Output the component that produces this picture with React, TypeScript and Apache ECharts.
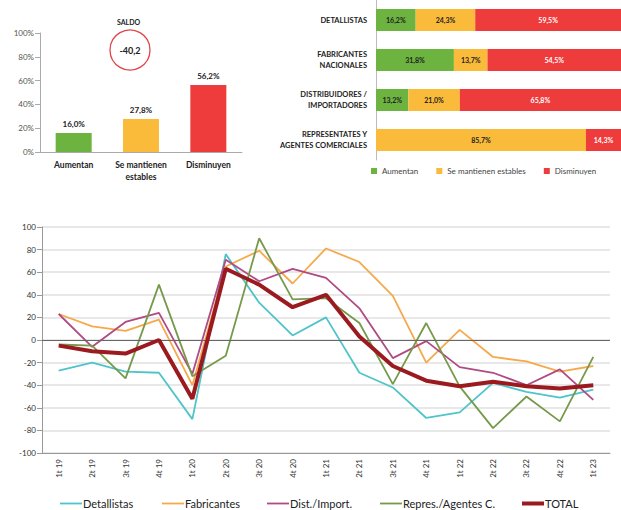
import React, { useEffect, useRef } from "react";
import * as echarts from "echarts";

// Top-left: overall distribution
const totalCats = ["Aumentan", "Se mantienen\nestables", "Disminuyen"];
const totalVals = [16.0, 27.8, 56.2];
const saldo = "-40,2";

// Top-right: by segment
const segCats = [
  "DETALLISTAS",
  "FABRICANTES\nNACIONALES",
  "DISTRIBUIDORES /\nIMPORTADORES",
  "REPRESENTATES Y\nAGENTES COMERCIALES",
];
const segAumentan = [16.2, 31.8, 13.2, 0];
const segEstables = [24.3, 13.7, 21.0, 85.7];
const segDisminuyen = [59.5, 54.5, 65.8, 14.3];

// Bottom: quarterly balance
const quarters = [
  "1t 19", "2t 19", "3t 19", "4t 19",
  "1t 20", "2t 20", "3t 20", "4t 20",
  "1t 21", "2t 21", "3t 21", "4t 21",
  "1t 22", "2t 22", "3t 22", "4t 22",
  "1t 23",
];
const detallistas = [-27, -20, -28, -29, -70, 76, 33, 4, 20, -29, -42, -69, -64, -38, -46, -51, -44];
const fabricantes = [23, 12, 8, 18, -40, 65, 79, 50, 81, 69, 39, -20, 9, -15, -19, -28, -23];
const distImport = [23, -6, 16, 24, -30, 71, 52, 63, 55, 28, -16, -1, -24, -29, -40, -26, -53];
const repres = [-4, -5, -34, 49, -32, -14, 90, 36, 37, 15, -39, 15, -41, -78, -50, -72, -15];
const total = [-5, -10, -12, 0, -52, 63, 49, 29, 40, 3, -23, -36, -41, -37, -41, -43, -40];

const GREEN = "#6cb33f";
const YELLOW = "#fbbb3a";
const RED = "#ee3b3b";
const FONT = "Lato";

const pct = (v: number) => (v ? v.toFixed(1).replace(".", ",") + "%" : "");

const lineNames = ["Detallistas", "Fabricantes", "Dist./Import.", "Repres./Agentes C.", "TOTAL"];
const lineLegendLeft = [60, 162, 267, 380, 522];

export default function App() {
  const ref = useRef<HTMLDivElement>(null);
  useEffect(() => {
    if (!ref.current) return;
    const chart = echarts.init(ref.current, undefined, { renderer: "svg" });
    const colors = [GREEN, YELLOW, RED];
    const lineSeries = (name: string, data: number[], color: string, width: number, z: number) => ({
      type: "line",
      name,
      data,
      xAxisIndex: 2,
      yAxisIndex: 2,
      showSymbol: false,
      symbol: "none",
      z,
      lineStyle: { color, width },
      itemStyle: { color },
    });
    chart.setOption({
      animation: false,
      textStyle: { fontFamily: FONT },
      grid: [
        { left: 40, top: 33, width: 202, height: 119 },
        { left: 376, top: 0, width: 245, height: 160 },
        { left: 42, top: 227, right: 11, bottom: 57 },
      ],
      xAxis: [
        {
          type: "category",
          gridIndex: 0,
          data: totalCats,
          axisLine: { lineStyle: { color: "#aaa" } },
          axisTick: { lineStyle: { color: "#aaa" } },
          axisLabel: { color: "#222", fontSize: 8.5, fontWeight: "bold", lineHeight: 12, margin: 7, fontFamily: FONT },
        },
        { type: "value", gridIndex: 1, min: 0, max: 100, show: false },
        {
          type: "category",
          gridIndex: 2,
          data: quarters,
          axisLine: { onZero: false, lineStyle: { color: "#999" } },
          axisTick: { alignWithLabel: true, lineStyle: { color: "#999" } },
          axisLabel: { rotate: 90, fontSize: 8, color: "#333", margin: 6, fontFamily: FONT },
        },
      ],
      yAxis: [
        {
          type: "value",
          gridIndex: 0,
          min: 0,
          max: 100,
          interval: 20,
          axisLine: { show: true, lineStyle: { color: "#aaa" } },
          axisTick: { show: true, lineStyle: { color: "#aaa" } },
          splitLine: { show: false },
          axisLabel: { formatter: "{value}%", fontSize: 8, color: "#555", margin: 6, fontFamily: FONT },
        },
        {
          type: "category",
          gridIndex: 1,
          data: segCats,
          inverse: true,
          axisLine: { show: true, lineStyle: { color: "#bbb" } },
          axisTick: { show: false },
          axisLabel: {
            color: "#222",
            fontSize: 7.5,
            fontWeight: "bold",
            lineHeight: 11,
            margin: 9,
            fontFamily: FONT,
          },
        },
        {
          type: "value",
          gridIndex: 2,
          min: -100,
          max: 100,
          interval: 20,
          axisLine: { show: true, lineStyle: { color: "#999" } },
          axisTick: { show: true, lineStyle: { color: "#999" } },
          splitLine: { show: true, lineStyle: { color: "#e0e0e0", width: 1.5 } },
          axisLabel: { fontSize: 8, color: "#333", margin: 6, fontFamily: FONT },
        },
      ],
      legend: [
        {
          data: ["Aumentan", "Se mantienen estables", "Disminuyen"],
          left: 366,
          top: 162,
          itemWidth: 6,
          itemHeight: 6,
          itemGap: 18,
          icon: "rect",
          textStyle: { fontSize: 8, color: "#444", fontFamily: FONT },
        },
        ...lineNames.map((name, i) => ({
          data: [
            {
              name,
              icon: i === 4 ? "path://M0,0L22,0L22,4L0,4Z" : "path://M0,0L22,0L22,1.8L0,1.8Z",
            },
          ],
          left: lineLegendLeft[i],
          top: 498,
          padding: 0,
          itemWidth: 22,
          itemHeight: 10,
          textStyle: { fontSize: 11, color: "#222", fontFamily: FONT, padding: [0, 0, 0, -4] },
        })),
      ],
      graphic: [
        {
          type: "text",
          left: 117,
          top: 18,
          style: { text: "SALDO", fontSize: 7, fontWeight: "bold", fill: "#222", fontFamily: FONT },
        },
        {
          type: "circle",
          shape: { cx: 130, cy: 50, r: 20 },
          style: { fill: "none", stroke: "#e0454b", lineWidth: 1.3 },
        },
        {
          type: "text",
          x: 130,
          y: 50,
          style: {
            text: saldo,
            fontSize: 9,
            fontWeight: "bold",
            fill: "#222",
            align: "center",
            verticalAlign: "middle",
            fontFamily: FONT,
          },
        },
      ],
      series: [
        {
          type: "bar",
          xAxisIndex: 0,
          yAxisIndex: 0,
          barWidth: 36,
          data: totalVals.map((v, i) => ({ value: v, itemStyle: { color: colors[i] } })),
          label: {
            show: true,
            position: "top",
            formatter: (p: any) => pct(p.value),
            fontSize: 8,
            fontWeight: "bold",
            color: "#222",
            distance: 5,
            fontFamily: FONT,
          },
        },
        ...[
          ["Aumentan", segAumentan, GREEN, "#222"],
          ["Se mantienen estables", segEstables, YELLOW, "#222"],
          ["Disminuyen", segDisminuyen, RED, "#fff"],
        ].map(([name, data, color, lc]) => ({
          type: "bar",
          name,
          stack: "seg",
          xAxisIndex: 1,
          yAxisIndex: 1,
          barWidth: 22,
          data,
          itemStyle: { color },
          label: {
            show: true,
            position: "inside",
            formatter: (p: any) => pct(p.value),
            fontSize: 7,
            fontWeight: "bold",
            color: lc,
            fontFamily: FONT,
          },
        })),
        {
          ...lineSeries("Detallistas", detallistas, "#4fc4c9", 1.8, 3),
          markLine: {
            silent: true,
            symbol: "none",
            label: { show: false },
            lineStyle: { color: "#666", width: 1.2, type: "solid" },
            data: [{ yAxis: 0 }],
          },
        },
        lineSeries("Fabricantes", fabricantes, "#f6a94b", 1.8, 3),
        lineSeries("Dist./Import.", distImport, "#b04a84", 1.8, 3),
        lineSeries("Repres./Agentes C.", repres, "#76994b", 1.8, 3),
        lineSeries("TOTAL", total, "#9a1a1f", 4, 5),
      ],
    });
    return () => chart.dispose();
  }, []);
  return (
    <div
      ref={ref}
      style={{ position: "fixed", left: 0, top: 0, width: 621, height: 510, background: "#fff" }}
    />
  );
}
